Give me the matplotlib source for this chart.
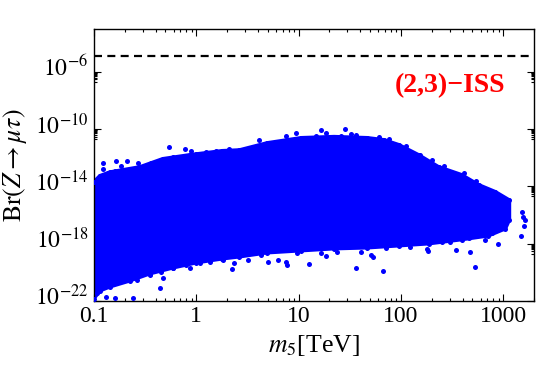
import numpy as np
import matplotlib
matplotlib.use("Agg")
import matplotlib.pyplot as plt
import matplotlib.transforms as mtransforms
from matplotlib.ticker import FixedLocator, NullFormatter

plt.rcParams['font.family'] = ['Liberation Serif', 'DejaVu Serif']
plt.rcParams['mathtext.fontset'] = 'stix'

# ============================================================================
# upper edge of the dense cloud (m5 in TeV, Br)
m5_upper = [0.1, 0.114, 0.143, 0.281, 0.47, 0.86, 1.80, 2.64, 4.94, 10.6,
            22.2, 46.6, 68.2, 95.5, 149, 234, 392, 574, 839, 1150]
br_upper = [2.1e-14, 5.5e-14, 1.0e-13, 2.3e-13, 8.5e-13, 1.6e-12, 3.1e-12,
            3.5e-12, 1.1e-11, 2.5e-11, 3.0e-11, 2.5e-11, 1.8e-11, 8.1e-12,
            1.6e-12, 2.3e-13, 6.5e-14, 1.3e-14, 4.2e-15, 1.1e-15]

# lower edge of the dense cloud
m5_lower = [0.1, 0.114, 0.143, 0.224, 0.351, 0.588, 1.0, 1.80, 2.64, 4.94,
            10.6, 22.2, 46.6, 95.5, 186, 392, 716, 1050, 1150]
br_lower = [1.4e-22, 5.0e-22, 9.5e-22, 2.5e-21, 7.8e-21, 2.0e-20, 4.6e-20,
            8.7e-20, 1.2e-19, 2.3e-19, 3.2e-19, 4.4e-19, 5.1e-19, 7.1e-19,
            9.8e-19, 1.9e-18, 3.5e-18, 1.1e-17, 4.6e-17]

# single points sitting on the top rim of the cloud
m5_rim_top = [0.123, 0.138, 0.160, 0.186, 0.242, 0.302, 0.365, 0.456, 0.592,
              0.687, 1.0, 1.25, 1.57, 2.11, 2.84, 3.56, 4.98, 6.23, 7.80, 11.3,
              14.7, 18.4, 22.2, 25.8, 36.1, 43.5, 61.0, 76.3, 111, 155, 201,
              262, 315, 410, 458, 544, 666, 803, 898, 1080]
br_rim_top = [1.6e-13, 8.5e-14, 1.1e-13, 1.2e-13, 1.4e-13, 1.9e-13, 4.3e-13,
              7.2e-13, 1.1e-12, 1.2e-12, 1.8e-12, 2.5e-12, 3.1e-12, 4.1e-12,
              3.2e-12, 4.8e-12, 1.1e-11, 9.5e-12, 1.2e-11, 2.4e-11, 3.1e-11,
              5.4e-11, 2.4e-11, 3.1e-11, 4.1e-11, 2.4e-11, 2.8e-11, 2.0e-11,
              6.2e-12, 1.6e-12, 6.5e-13, 2.5e-13, 8.5e-14, 8.5e-14, 2.2e-14,
              2.5e-14, 4.9e-15, 2.6e-15, 1.5e-15, 9.8e-16]

# single points sitting on the bottom rim of the cloud
m5_rim_bot = [0.114, 0.143, 0.193, 0.261, 0.351, 0.456, 0.592, 0.80, 1.08,
              1.35, 1.82, 2.36, 2.54, 3.18, 4.29, 6.23, 7.52, 9.75, 16.5, 23.9,
              40.5, 50.6, 70.8, 124, 180, 252, 304, 458, 656, 773, 1005]
br_rim_bot = [5.0e-21, 1.7e-21, 5.0e-21, 3.0e-21, 7.8e-21, 1.1e-20, 1.9e-20,
              3.3e-20, 4.4e-20, 4.8e-20, 7.4e-20, 4.4e-20, 1.7e-19, 7.4e-20,
              1.7e-19, 7.4e-20, 5.6e-20, 2.2e-19, 2.2e-19, 2.8e-19, 2.8e-19,
              1.7e-19, 4.9e-19, 5.8e-19, 4.2e-19, 1.2e-18, 1.4e-18, 2.4e-18,
              1.7e-18, 5.4e-18, 1.6e-17]

# scattered points outside the dense cloud
m5_out = [1510, 1570, 1645, 1600, 1490, 532, 66.7, 348, 476, 880, 184,
          12.7, 36.1, 28.4, 9.5, 16.7, 4.13, 7.52, 32.3, 7.69, 4.98, 18.5,
          53.2, 0.54, 0.77, 0.89, 0.166, 0.208, 0.122, 0.183, 0.267, 0.44,
          0.242, 0.160, 0.131, 0.106, 0.473, 0.351, 2.25, 0.86]
br_out = [1.7e-16, 6.8e-17, 4.6e-17, 1.7e-17, 3.5e-18, 2.5e-20, 1.3e-20,
          3.3e-19, 2.7e-19, 9.8e-19, 3.2e-19, 3.9e-20, 2.1e-20, 1.1e-10,
          5.4e-11, 8.1e-11, 1.6e-11, 3.1e-11, 4.8e-11, 3.0e-20, 5.6e-20,
          1.3e-19, 1.1e-19, 5.2e-12, 4.3e-12, 2.8e-12, 6.2e-13, 6.2e-13,
          4.3e-13, 2.7e-13, 4.0e-13, 7.8e-22, 1.55e-22, 1.55e-22, 2.0e-22,
          3.5e-22, 3.9e-21, 6.6e-21, 1.7e-20, 1.9e-20]

br_limit = 1.2e-5  # experimental bound (dashed line)
x_ticks = [0.1, 1, 10, 100, 1000]
x_ticklabels = ['0.1', '1', '10', '100', '1000']
y_ticks = [1e-22, 1e-18, 1e-14, 1e-10, 1e-6]
y_ticklabels = [r'$10^{-22}$', r'$10^{-18}$', r'$10^{-14}$', r'$10^{-10}$', r'$10^{-6}$']
# ============================================================================

blue = '#0000ff'

fig = plt.figure(figsize=(5.4, 3.66), dpi=100)
ax = fig.add_axes([0.174, 0.178, 0.815, 0.743])
ax.set_xscale('log')
ax.set_yscale('log')

# dense region of the scan
ax.fill(np.concatenate([m5_upper, m5_lower[::-1]]),
        np.concatenate([br_upper, br_lower[::-1]]),
        color=blue, lw=2.5, ec=blue, zorder=2)
for xs, ys in [(m5_upper, br_upper), (m5_lower, br_lower),
               (m5_rim_top, br_rim_top), (m5_rim_bot, br_rim_bot),
               (m5_out, br_out)]:
    ax.scatter(xs, ys, s=13, color=blue, lw=0, zorder=3)

ax.axhline(br_limit, color='black', lw=1.6, dashes=(3.6, 2.4), zorder=4)

ax.text(0.809, 0.79, '(2,3)\u2212ISS', transform=ax.transAxes, color='red',
        fontsize=20, fontweight='bold', ha='center', va='center')

ax.set_xlim(0.1, 2000)
ax.set_ylim(1e-22, 1e-3)

ax.xaxis.set_major_locator(FixedLocator(x_ticks))
ax.set_xticklabels(x_ticklabels)
x_minor = [k * 10.0**e for e in range(-1, 4) for k in range(2, 10)]
ax.xaxis.set_minor_locator(FixedLocator(x_minor))
ax.xaxis.set_minor_formatter(NullFormatter())

ax.yaxis.set_major_locator(FixedLocator(y_ticks))
ax.set_yticklabels(y_ticklabels)
y_minor = [k * 10.0**(e - 1) for e in range(-22, -2, 4) for k in range(2, 10)]
ax.yaxis.set_minor_locator(FixedLocator(y_minor))
ax.yaxis.set_minor_formatter(NullFormatter())

ax.tick_params(which='both', direction='in', top=True, right=True,
               labelsize=17, width=0.8)
ax.tick_params(which='major', length=5)
ax.tick_params(axis='x', which='major', pad=4)
ax.tick_params(axis='y', which='major', pad=4)
ax.tick_params(which='minor', length=2.5)
for s in ax.spines.values():
    s.set_linewidth(1.0)

# keep the "10" of each y label centred on its tick, exponent above
shift_up = mtransforms.ScaledTranslation(0, 4 / 72, fig.dpi_scale_trans)
for lab in ax.get_yticklabels():
    lab.set_transform(lab.get_transform() + shift_up)

ax.set_xlabel(r'$m_5$[TeV]', fontsize=18.5)
ax.set_ylabel(r'$\mathrm{Br}(Z\rightarrow\mu\tau)$', fontsize=18.5)
ax.xaxis.set_label_coords(0.5, -0.165)
ax.xaxis.label.set_va('center')
ax.yaxis.set_label_coords(-0.18, 0.5)
ax.yaxis.label.set_va('center')

fig.savefig('out.png', dpi=100)
